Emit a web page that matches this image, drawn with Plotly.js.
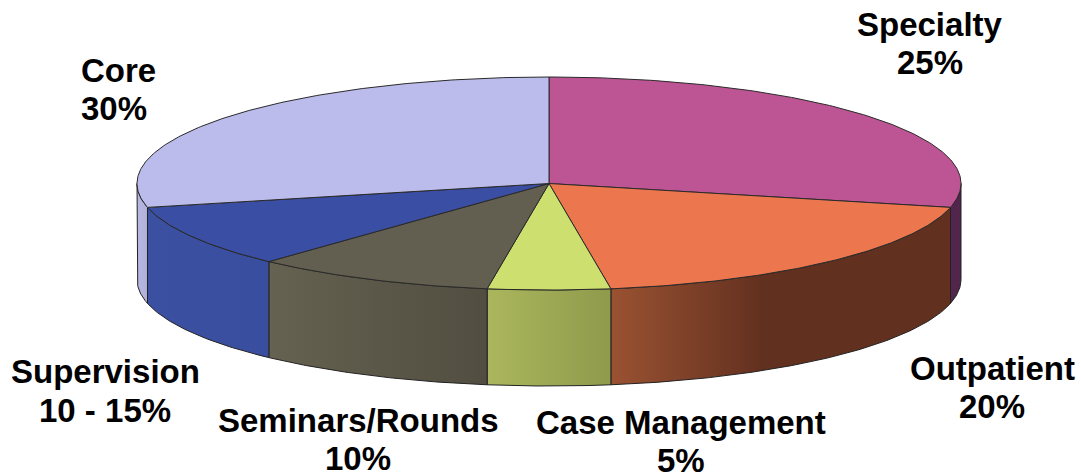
<!DOCTYPE html>
<html>
<head>
<meta charset="utf-8">
<script src="https://cdn.plot.ly/plotly-3.0.1.min.js"></script>
<style>html,body{margin:0;padding:0;background:#fff}#chart{width:1081px;height:476px}</style>
</head>
<body>
<div id="chart"></div>
<script>
// Clockwise from 12 o'clock
const categories = ["Specialty", "Outpatient", "Case Management", "Seminars/Rounds", "Supervision", "Core"];
const valueLabels = ["25%", "20%", "5%", "10%", "10 - 15%", "30%"];
const drawnShares = [28.6, 19.0, 4.8, 9.5, 9.5, 28.6];
const topColors = ["#bd5594", "#ec774f", "#cde06f", "#625f50", "#3a4fa3", "#bcbcec"];
const wallStart = ["#52254c", "#9a5232", "#abb65c", "#666251", "#3c50a2", "#b7b7e2"];
const wallEnd = ["#52254c", "#62301f", "#8f9b4c", "#514d40", "#3a4ea0", "#b0b0dc"];
const labelX = [930, 992, 681, 358, 105, 79];
const nameY = [24, 368, 422, 420, 371, 70];
const valueY = [62, 406, 460, 458, 410, 108];

// Pie geometry on the axes
const cx = 549, cy = 183.5, rx = 412, ry = 106.5, depth = 96;
const px = a => cx + rx * Math.sin(a);
const py = a => cy - ry * Math.cos(a);
const total = drawnShares.reduce((s, v) => s + v, 0);

function arc(a0, a1, dy) {
  const n = Math.max(2, Math.ceil(Math.abs(a1 - a0) / 0.01));
  const xs = [], ys = [];
  for (let i = 0; i <= n; i++) {
    const a = a0 + (a1 - a0) * i / n;
    xs.push(px(a)); ys.push(py(a) + dy);
  }
  return [xs, ys];
}

const walls = [], tops = [];
let acc = 0;
drawnShares.forEach((v, i) => {
  const a0 = acc / total * 2 * Math.PI;
  acc += v;
  const a1 = acc / total * 2 * Math.PI;
  const [tx, ty] = arc(a0, a1, 0);
  tops.push({
    type: "scatter", mode: "lines", x: [cx, ...tx, cx], y: [cy, ...ty, cy],
    fill: "toself", fillcolor: topColors[i],
    line: {color: "#2a2a2a", width: 1}, hoverinfo: "skip", showlegend: false
  });
  // The front-facing part of the rim lies between 3 o'clock and 9 o'clock
  const f0 = Math.max(a0, Math.PI / 2), f1 = Math.min(a1, 3 * Math.PI / 2);
  if (f1 > f0) {
    const [ux, uy] = arc(f0, f1, 0);
    const [lx, ly] = arc(f1, f0, depth);
    const left = Math.min(...ux), right = Math.max(...ux);
    walls.push({
      type: "scatter", mode: "lines",
      x: [...ux, ...lx, ux[0]], y: [...uy, ...ly, uy[0]],
      fill: "toself",
      fillgradient: {
        type: "horizontal", start: left, stop: right,
        colorscale: [[0, wallStart[i]], [i === 1 ? 0.45 : 1, wallEnd[i]], [1, wallEnd[i]]]
      },
      line: {color: "#222222", width: 1}, hoverinfo: "skip", showlegend: false
    });
  }
});

const font = {family: "Liberation Sans, Arial, sans-serif", size: 33, color: "#000000"};
const note = (text, i, y) => ({
  x: labelX[i], y, xref: "x", yref: "y", text: "<b>" + text + "</b>",
  showarrow: false, xanchor: i === 5 ? "left" : "center", yanchor: "middle", font
});
const annotations = categories.flatMap((c, i) => [
  note(c, i, nameY[i]),
  note(valueLabels[i], i, valueY[i])
]);

Plotly.newPlot("chart", [...walls, ...tops], {
  width: 1081, height: 476,
  margin: {l: 0, r: 0, t: 0, b: 0},
  paper_bgcolor: "#ffffff", plot_bgcolor: "#ffffff",
  xaxis: {range: [0, 1081], visible: false, fixedrange: true},
  yaxis: {range: [476, 0], visible: false, fixedrange: true},
  showlegend: false, hovermode: false,
  annotations
}, {displayModeBar: false, staticPlot: true});
</script>
</body>
</html>
